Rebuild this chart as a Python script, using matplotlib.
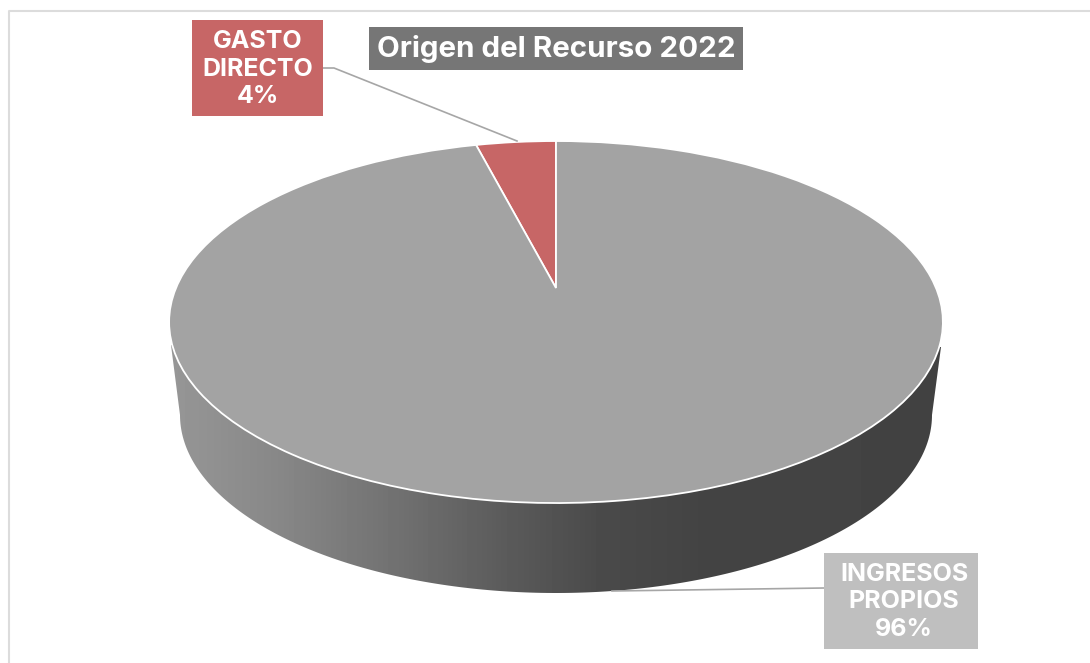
import numpy as np
import matplotlib
matplotlib.use("Agg")
import matplotlib.pyplot as plt
from matplotlib.patches import Polygon, Rectangle
from matplotlib.transforms import Transform

categories = ["GASTO\nDIRECTO", "INGRESOS\nPROPIOS"]
values = [4, 96]
colors = ["#C76666", "#A3A3A3"]
title = "Origen del Recurso 2022"

plt.rcParams['font.family'] = ['Inter', 'DejaVu Sans']


# tilted pie: unit circle -> picture pixels, apex sits above the ellipse centre
class Tilt(Transform):
    input_dims = 2
    output_dims = 2

    def transform_non_affine(self, xy):
        xy = np.asarray(xy, dtype=float)
        w = 1 + 0.188 * xy[:, 1]
        px = 556 + 380 * xy[:, 0] / w
        py = 322 - (181 * xy[:, 1] + 34) / w
        return np.column_stack([px, py])


fig = plt.figure(figsize=(10.9, 6.63), dpi=100)
ax = fig.add_axes([0, 0, 1, 1])

# side wall with the left-to-right shading
t = np.linspace(np.pi, 2 * np.pi, 200)
wall = [(171, 345), (180, 415)]
wall += list(zip(556 + 376 * np.cos(t), 415 - 178 * np.sin(t)))
wall += [(932, 415), (941, 347)]
wall_patch = Polygon(wall, closed=True, transform=ax.transData, fc='none', ec='none')
ax.add_patch(wall_patch)

stops_x = [170, 280, 400, 500, 600, 700, 945]
stops_g = [0.59, 0.53, 0.44, 0.36, 0.29, 0.265, 0.26]
grad = np.interp(np.arange(170, 945), stops_x, stops_g).reshape(1, -1)
im = ax.imshow(grad, cmap='gray', vmin=0, vmax=1, extent=(170, 945, 600, 340),
               aspect='auto', zorder=1)
im.set_clip_path(wall_patch)

# top face
wedges, _ = ax.pie(values, colors=colors, startangle=90, counterclock=True,
                   wedgeprops=dict(edgecolor='white', linewidth=1.3, zorder=2))
tilt = Tilt()
for w in wedges:
    w.set_transform(tilt + ax.transData)

ax.set_aspect('auto')
ax.set_xlim(0, 1090)
ax.set_ylim(663, 0)
ax.axis('off')

# outer frame of the chart
ax.plot([9, 9, 1090], [663, 11, 11], color='#DCDCDC', lw=1.5, zorder=0)

# leader lines
ax.plot([323, 334, 517], [68, 68, 141], color='#A6A6A6', lw=1.2, zorder=3)
ax.plot([824, 612], [588, 591], color='#A6A6A6', lw=1.2, zorder=3)

# title and labels
ax.add_patch(Rectangle((369, 27), 374, 43, fc='#767676', ec='none', zorder=4))
ax.text(556, 49, title, color='white', fontsize=21.3, fontweight='bold',
        ha='center', va='center', zorder=5)

ax.add_patch(Rectangle((192, 20), 131, 96, fc=colors[0], ec='none', zorder=4))
ax.text(258, 69, f"{categories[0]}\n{values[0]}%", color='white', fontsize=18,
        fontweight='bold', ha='center', va='center', linespacing=1.27, zorder=5)

ax.add_patch(Rectangle((824, 553), 154, 96, fc='#BFBFBF', ec='none', zorder=4))
ax.text(904, 602, f"{categories[1]}\n{values[1]}%", color='white', fontsize=18,
        fontweight='bold', ha='center', va='center', linespacing=1.27, zorder=5)

fig.savefig('out.png', dpi=100)
